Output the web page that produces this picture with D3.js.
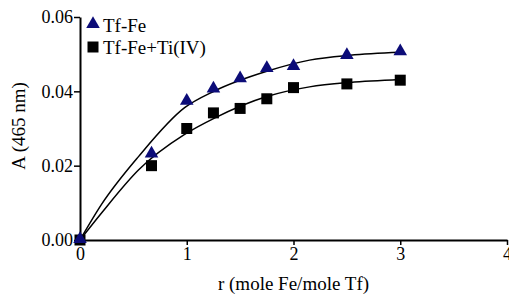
<!DOCTYPE html>
<html>
<head>
<meta charset="utf-8">
<script src="https://cdn.jsdelivr.net/npm/d3@7"></script>
<style>
  body { margin: 0; background: #fff; }
  svg text { font-family: "Liberation Serif", "Times New Roman", "DejaVu Serif", serif !important; }
</style>
</head>
<body>
<div id="chart"></div>
<script>
// measured points
const ratioX = [0, 0.67, 1.0, 1.25, 1.5, 1.75, 2.0, 2.5, 3.0];
const tfFe = [0, 0.023, 0.0372, 0.0405, 0.0432, 0.046, 0.0465, 0.0495, 0.0505];
const tfFeTi = [0, 0.020, 0.030, 0.0342, 0.0354, 0.038, 0.041, 0.042, 0.043];

// fitted curves
const fitX = [0, 0.2, 0.55, 0.98, 1.26, 1.75, 2.15, 2.53, 3.0];
const fitTfFe = [0, 0.0095, 0.0225, 0.0356, 0.0401, 0.0454, 0.0484, 0.0497, 0.0505];
const fitTfFeTi = [0, 0.0072, 0.0189, 0.0284, 0.0328, 0.0386, 0.0412, 0.0424, 0.0432];

const xTicks = [0, 1, 2, 3, 4];
const yTicks = [0, 0.02, 0.04, 0.06];
const seriesNames = ["Tf-Fe", "Tf-Fe+Ti(IV)"];

const W = 509, H = 295;
const margin = {top: 17, right: 2, bottom: 55, left: 80};
const width = W - margin.left - margin.right;
const height = H - margin.top - margin.bottom;
const serif = '"Liberation Serif", "Times New Roman", serif';

const svg = d3.select("#chart")
  .append("svg")
  .attr("width", W)
  .attr("height", H)
  .attr("font-family", serif);

const g = svg.append("g")
  .attr("transform", `translate(${margin.left},${margin.top})`);

const x = d3.scaleLinear().domain([0, 4]).range([0, width]);
const y = d3.scaleLinear().domain([0, 0.06]).range([height, 0]);

// X axis
const xAxis = g.append("g")
  .attr("transform", `translate(0,${height})`)
  .call(d3.axisBottom(x).tickValues(xTicks).tickFormat(d3.format("d")).tickSize(5).tickSizeOuter(0))
  .attr("font-family", serif);
xAxis.select(".domain").attr("stroke-width", 2);
xAxis.selectAll(".tick line").attr("stroke-width", 1.5);
xAxis.selectAll("text").style("font-size", "18px").attr("fill", "#000").attr("y", 6).attr("dy", "0.8em");

// Y axis
const yAxis = g.append("g")
  .call(d3.axisLeft(y).tickValues(yTicks).tickFormat(d3.format(".2f")).tickSize(6).tickSizeOuter(0))
  .attr("font-family", serif);
yAxis.select(".domain").attr("stroke-width", 2);
yAxis.selectAll(".tick line").attr("stroke-width", 1.5);
yAxis.selectAll("text").style("font-size", "18px").attr("fill", "#000").attr("x", -7);

// fitted lines
const line = d3.line()
  .x(d => x(d[0]))
  .y(d => y(d[1]))
  .curve(d3.curveMonotoneX);

[fitTfFe, fitTfFeTi].forEach(vals => {
  g.append("path")
    .datum(fitX.map((v, i) => [v, vals[i]]))
    .attr("fill", "none")
    .attr("stroke", "#000")
    .attr("stroke-width", 1.5)
    .attr("d", line);
});

// markers
const tri = d3.symbol().type(d3.symbolTriangle).size(80);
const sq = d3.symbol().type(d3.symbolSquare).size(121);

g.append("g")
  .selectAll("path")
  .data(ratioX.map((v, i) => [v, tfFeTi[i]]))
  .enter()
  .append("path")
  .attr("d", sq)
  .attr("transform", d => `translate(${x(d[0])},${y(d[1])})`)
  .attr("fill", "#000");

g.append("g")
  .selectAll("path")
  .data(ratioX.map((v, i) => [v, tfFe[i]]))
  .enter()
  .append("path")
  .attr("d", tri)
  .attr("transform", d => `translate(${x(d[0])},${y(d[1]) - 1})`)
  .attr("fill", "#0c0c78");

// legend
const legend = g.append("g").attr("transform", "translate(13,8)");
legend.append("path").attr("d", tri).attr("fill", "#0c0c78").attr("transform", "translate(0,-1)");
legend.append("text").attr("x", 10).attr("y", 6.5).style("font-size", "19px").text(seriesNames[0]);
legend.append("path").attr("d", sq).attr("fill", "#000").attr("transform", "translate(0,22)");
legend.append("text").attr("x", 10).attr("y", 28.5).style("font-size", "19px").text(seriesNames[1]);

// axis titles
svg.append("text")
  .attr("x", margin.left + x(2))
  .attr("y", 290)
  .attr("text-anchor", "middle")
  .style("font-size", "19px")
  .text("r (mole Fe/mole Tf)");

svg.append("text")
  .attr("transform", `translate(25,126) rotate(-90)`)
  .attr("text-anchor", "middle")
  .style("font-size", "19px")
  .text("A (465 nm)");
</script>
</body>
</html>
